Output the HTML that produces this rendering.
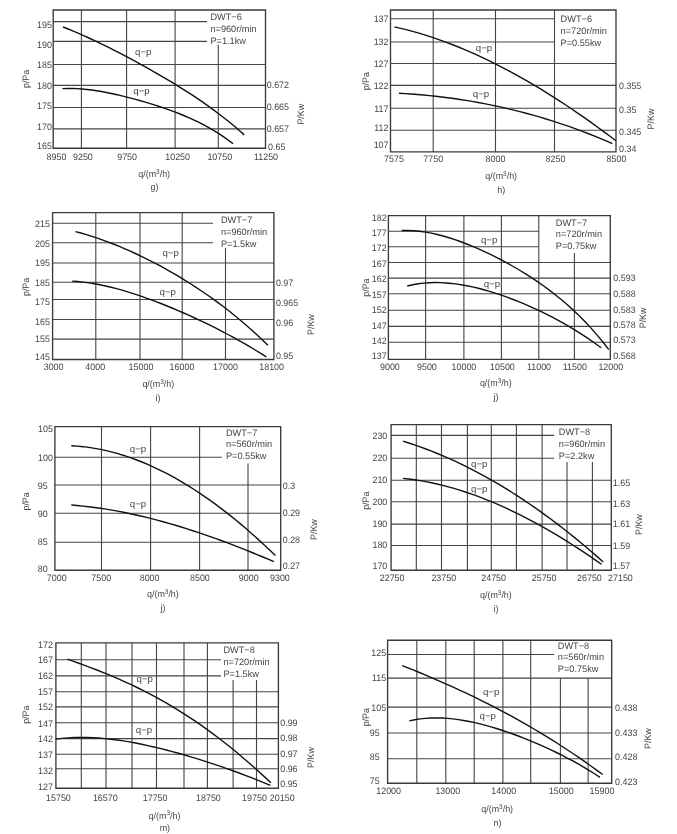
<!DOCTYPE html>
<html lang="en"><head><meta charset="utf-8"><title>Fan performance curves</title>
<style>
html,body{margin:0;padding:0;background:#fff}
body{width:677px;height:834px;overflow:hidden}
svg{display:block}
text{font-family:"Liberation Sans",Arial,Helvetica,sans-serif;font-size:9.4px;fill:#444;text-rendering:geometricPrecision}
.gr{fill:none;stroke:#444;stroke-width:1.1}
.bd{fill:none;stroke:#3a3a3a;stroke-width:1.35}
.cv{fill:none;stroke:#111;stroke-width:1.4;stroke-linecap:butt;stroke-linejoin:round}
</style></head><body>
<svg width="677" height="834" viewBox="0 0 677 834">
<rect width="677" height="834" fill="#fff"/>
<g id="chart-g">
<path class="gr" d="M81.4,10V148.2M126.6,10V148.2M175.1,10V148.2M218.3,44.7V148.2M53.2,21.6H207M53.2,41.4H207M53.2,64.5H265.5M53.2,85.4H265.5M53.2,107.5H265.5M53.2,128.9H265.5"/>
<path class="bd" d="M53.2,10H265.5V148.2H53.2Z"/>
<path class="cv" d="M63,26.98 L68.18,29.02 L73.35,31.15 L78.53,33.36 L83.71,35.64 L88.89,37.99 L94.06,40.4 L99.24,42.87 L104.42,45.39 L109.59,47.96 L114.77,50.58 L119.95,53.24 L125.13,55.94 L130.3,58.69 L135.48,61.47 L140.66,64.29 L145.83,67.16 L151.01,70.07 L156.19,73.02 L161.37,76.02 L166.54,79.06 L171.72,82.17 L176.9,85.33 L182.07,88.55 L187.25,91.84 L192.43,95.21 L197.61,98.66 L202.78,102.2 L207.96,105.84 L213.14,109.58 L218.31,113.44 L223.49,117.43 L228.67,121.55 L233.85,125.82 L239.02,130.26 L244.2,134.86"/>
<path class="cv" d="M62.5,88.64 L67.37,88.46 L72.25,88.47 L77.12,88.65 L82,88.98 L86.87,89.45 L91.75,90.05 L96.62,90.75 L101.49,91.56 L106.37,92.46 L111.24,93.44 L116.12,94.5 L120.99,95.62 L125.87,96.81 L130.74,98.06 L135.61,99.36 L140.49,100.72 L145.36,102.13 L150.24,103.59 L155.11,105.12 L159.99,106.71 L164.86,108.36 L169.73,110.08 L174.61,111.88 L179.48,113.77 L184.36,115.75 L189.23,117.84 L194.11,120.05 L198.98,122.39 L203.85,124.88 L208.73,127.53 L213.6,130.35 L218.48,133.37 L223.35,136.61 L228.23,140.08 L233.1,143.81"/>
<text transform="translate(51.9,27.78) scale(0.95,1)" text-anchor="end">195</text>
<text transform="translate(51.9,48.18) scale(0.95,1)" text-anchor="end">190</text>
<text transform="translate(51.9,68.38) scale(0.95,1)" text-anchor="end">185</text>
<text transform="translate(51.9,88.88) scale(0.95,1)" text-anchor="end">180</text>
<text transform="translate(51.9,108.98) scale(0.95,1)" text-anchor="end">175</text>
<text transform="translate(51.9,129.58) scale(0.95,1)" text-anchor="end">170</text>
<text transform="translate(51.9,149.18) scale(0.95,1)" text-anchor="end">165</text>
<text transform="translate(266.7,88.28) scale(0.95,1)">0.672</text>
<text transform="translate(266.7,109.88) scale(0.95,1)">0.665</text>
<text transform="translate(266.7,131.78) scale(0.95,1)">0.657</text>
<text transform="translate(268,150.08) scale(0.95,1)">0.65</text>
<text transform="translate(56.5,159.88) scale(0.95,1)" text-anchor="middle">8950</text>
<text transform="translate(82.9,159.88) scale(0.95,1)" text-anchor="middle">9250</text>
<text transform="translate(127.1,159.88) scale(0.95,1)" text-anchor="middle">9750</text>
<text transform="translate(177.6,159.88) scale(0.95,1)" text-anchor="middle">10250</text>
<text transform="translate(219.8,159.88) scale(0.95,1)" text-anchor="middle">10750</text>
<text transform="translate(266,159.88) scale(0.95,1)" text-anchor="middle">11250</text>
<text transform="translate(154.2,177.48) scale(0.95,1)" text-anchor="middle">q/(m<tspan dy="-3.6" font-size="6.8">3</tspan><tspan dy="3.6">/h)</tspan></text>
<text transform="translate(154.5,190.38) scale(0.95,1)" text-anchor="middle">g)</text>
<text transform="translate(28.88,78.9) rotate(-90) scale(0.95,1)" text-anchor="middle">p/Pa</text>
<text transform="translate(303.58,114.2) rotate(-90) scale(0.95,1)" text-anchor="middle">P/Kw</text>
<text transform="translate(210.4,20.48) scale(0.98,1)">DWT−6</text>
<text transform="translate(210.4,31.98) scale(0.98,1)">n=960r/min</text>
<text transform="translate(210.4,43.58) scale(0.98,1)">P=1.1kw</text>
<text transform="translate(143.2,55.38) scale(1.03,1)" text-anchor="middle">q−p</text>
<text transform="translate(141.5,94.28) scale(1.03,1)" text-anchor="middle">q−p</text>
</g>
<g id="chart-h">
<path class="gr" d="M433.2,10V151.8M495.5,10V151.8M554.5,10V151.8M390.5,18.8H554.5M390.5,42H554.5M390.5,63.5H616M390.5,85.4H616M390.5,108.3H616M390.5,130.2H616"/>
<path class="bd" d="M390.5,10H616V151.8H390.5Z"/>
<path class="cv" d="M394.5,26.92 L400.83,28.36 L407.16,29.93 L413.49,31.63 L419.81,33.44 L426.14,35.38 L432.47,37.43 L438.8,39.59 L445.13,41.88 L451.46,44.27 L457.79,46.77 L464.11,49.39 L470.44,52.11 L476.77,54.94 L483.1,57.87 L489.43,60.91 L495.76,64.04 L502.09,67.28 L508.41,70.62 L514.74,74.05 L521.07,77.57 L527.4,81.19 L533.73,84.91 L540.06,88.71 L546.39,92.6 L552.71,96.57 L559.04,100.64 L565.37,104.78 L571.7,109.01 L578.03,113.32 L584.36,117.7 L590.69,122.17 L597.01,126.71 L603.34,131.32 L609.67,136.01 L616,140.76"/>
<path class="cv" d="M399,93.31 L405.09,93.66 L411.19,94.06 L417.28,94.52 L423.38,95.04 L429.47,95.63 L435.57,96.27 L441.66,96.97 L447.75,97.73 L453.85,98.55 L459.94,99.44 L466.04,100.38 L472.13,101.4 L478.23,102.47 L484.32,103.61 L490.41,104.82 L496.51,106.09 L502.6,107.43 L508.7,108.83 L514.79,110.31 L520.89,111.85 L526.98,113.46 L533.07,115.14 L539.17,116.89 L545.26,118.71 L551.36,120.6 L557.45,122.56 L563.55,124.6 L569.64,126.71 L575.73,128.89 L581.83,131.15 L587.92,133.48 L594.02,135.89 L600.11,138.38 L606.21,140.94 L612.3,143.58"/>
<text transform="translate(388.5,22.18) scale(0.95,1)" text-anchor="end">137</text>
<text transform="translate(388.5,45.38) scale(0.95,1)" text-anchor="end">132</text>
<text transform="translate(388.5,66.88) scale(0.95,1)" text-anchor="end">127</text>
<text transform="translate(388.5,88.78) scale(0.95,1)" text-anchor="end">122</text>
<text transform="translate(388.5,111.68) scale(0.95,1)" text-anchor="end">117</text>
<text transform="translate(388.5,130.88) scale(0.95,1)" text-anchor="end">112</text>
<text transform="translate(388.5,147.88) scale(0.95,1)" text-anchor="end">107</text>
<text transform="translate(619,89.38) scale(0.95,1)">0.355</text>
<text transform="translate(619,113.38) scale(0.95,1)">0.35</text>
<text transform="translate(619,134.88) scale(0.95,1)">0.345</text>
<text transform="translate(619,151.88) scale(0.95,1)">0.34</text>
<text transform="translate(394,161.88) scale(0.95,1)" text-anchor="middle">7575</text>
<text transform="translate(433.2,161.88) scale(0.95,1)" text-anchor="middle">7750</text>
<text transform="translate(495.5,161.88) scale(0.95,1)" text-anchor="middle">8000</text>
<text transform="translate(555.5,161.88) scale(0.95,1)" text-anchor="middle">8250</text>
<text transform="translate(616.5,161.88) scale(0.95,1)" text-anchor="middle">8500</text>
<text transform="translate(501.2,179.38) scale(0.95,1)" text-anchor="middle">q/(m<tspan dy="-3.6" font-size="6.8">3</tspan><tspan dy="3.6">/h)</tspan></text>
<text transform="translate(501.3,192.58) scale(0.95,1)" text-anchor="middle">h)</text>
<text transform="translate(368.68,81.2) rotate(-90) scale(0.95,1)" text-anchor="middle">p/Pa</text>
<text transform="translate(654.38,119) rotate(-90) scale(0.95,1)" text-anchor="middle">P/Kw</text>
<text transform="translate(560.6,21.88) scale(0.98,1)">DWT−6</text>
<text transform="translate(560.6,33.88) scale(0.98,1)">n=720r/min</text>
<text transform="translate(560.6,45.88) scale(0.98,1)">P=0.55kw</text>
<text transform="translate(484,50.58) scale(1.03,1)" text-anchor="middle">q−p</text>
<text transform="translate(481,97.08) scale(1.03,1)" text-anchor="middle">q−p</text>
</g>
<g id="chart-i">
<path class="gr" d="M95.8,212.6V359.5M140,212.6V359.5M182.2,212.6V359.5M225.5,247.8V359.5M52.6,223.2H213M52.6,242.8H213M52.6,263H273.9M52.6,282.2H273.9M52.6,299.5H273.9M52.6,319.5H273.9M52.6,339.1H273.9"/>
<path class="bd" d="M52.6,212.6H273.9V359.5H52.6Z"/>
<path class="cv" d="M75.4,231.58 L80.9,233.04 L86.4,234.62 L91.9,236.32 L97.4,238.14 L102.9,240.06 L108.4,242.09 L113.9,244.23 L119.4,246.46 L124.9,248.79 L130.4,251.22 L135.9,253.74 L141.4,256.35 L146.9,259.06 L152.4,261.85 L157.9,264.74 L163.4,267.72 L168.9,270.79 L174.4,273.95 L179.9,277.21 L185.4,280.57 L190.9,284.03 L196.4,287.59 L201.9,291.26 L207.4,295.03 L212.9,298.92 L218.4,302.93 L223.9,307.06 L229.4,311.32 L234.9,315.72 L240.4,320.26 L245.9,324.94 L251.4,329.78 L256.9,334.78 L262.4,339.95 L267.9,345.3"/>
<path class="cv" d="M72.2,281.15 L77.75,281.54 L83.29,282.11 L88.84,282.84 L94.38,283.74 L99.93,284.77 L105.47,285.95 L111.02,287.25 L116.57,288.67 L122.11,290.2 L127.66,291.84 L133.2,293.57 L138.75,295.4 L144.29,297.31 L149.84,299.3 L155.39,301.37 L160.93,303.51 L166.48,305.73 L172.02,308 L177.57,310.35 L183.11,312.75 L188.66,315.22 L194.21,317.75 L199.75,320.34 L205.3,322.99 L210.84,325.71 L216.39,328.49 L221.93,331.33 L227.48,334.25 L233.03,337.24 L238.57,340.3 L244.12,343.45 L249.66,346.68 L255.21,350.01 L260.75,353.43 L266.3,356.96"/>
<text transform="translate(49.9,227.28) scale(0.95,1)" text-anchor="end">215</text>
<text transform="translate(49.9,246.68) scale(0.95,1)" text-anchor="end">205</text>
<text transform="translate(49.9,266.08) scale(0.95,1)" text-anchor="end">195</text>
<text transform="translate(49.9,285.78) scale(0.95,1)" text-anchor="end">185</text>
<text transform="translate(49.9,305.08) scale(0.95,1)" text-anchor="end">175</text>
<text transform="translate(49.9,324.88) scale(0.95,1)" text-anchor="end">165</text>
<text transform="translate(49.9,342.48) scale(0.95,1)" text-anchor="end">155</text>
<text transform="translate(49.9,360.38) scale(0.95,1)" text-anchor="end">145</text>
<text transform="translate(275.9,285.68) scale(0.95,1)">0.97</text>
<text transform="translate(275.9,305.58) scale(0.95,1)">0.965</text>
<text transform="translate(275.9,325.78) scale(0.95,1)">0.96</text>
<text transform="translate(275.9,359.48) scale(0.95,1)">0.95</text>
<text transform="translate(53.6,370.38) scale(0.95,1)" text-anchor="middle">3000</text>
<text transform="translate(95.2,370.38) scale(0.95,1)" text-anchor="middle">4000</text>
<text transform="translate(141,370.38) scale(0.95,1)" text-anchor="middle">15000</text>
<text transform="translate(182,370.38) scale(0.95,1)" text-anchor="middle">16000</text>
<text transform="translate(225.5,370.38) scale(0.95,1)" text-anchor="middle">17000</text>
<text transform="translate(271.6,370.38) scale(0.95,1)" text-anchor="middle">18100</text>
<text transform="translate(158.3,387.18) scale(0.95,1)" text-anchor="middle">q/(m<tspan dy="-3.6" font-size="6.8">3</tspan><tspan dy="3.6">/h)</tspan></text>
<text transform="translate(157.9,400.58) scale(0.95,1)" text-anchor="middle">i)</text>
<text transform="translate(29.28,286.9) rotate(-90) scale(0.95,1)" text-anchor="middle">p/Pa</text>
<text transform="translate(313.78,324.6) rotate(-90) scale(0.95,1)" text-anchor="middle">P/Kw</text>
<text transform="translate(220.9,223.48) scale(0.98,1)">DWT−7</text>
<text transform="translate(220.9,234.98) scale(0.98,1)">n=960r/min</text>
<text transform="translate(220.9,247.18) scale(0.98,1)">P=1.5kw</text>
<text transform="translate(170.6,256.48) scale(1.03,1)" text-anchor="middle">q−p</text>
<text transform="translate(167.6,295.28) scale(1.03,1)" text-anchor="middle">q−p</text>
</g>
<g id="chart-j">
<path class="gr" d="M425.6,215.6V359.4M463.9,215.6V359.4M501.4,215.6V359.4M538.8,215.6V359.4M574.4,252.9V359.4M388.4,231.2H538.8M388.4,246.8H538.8M388.4,262.5H610.3M388.4,278.1H610.3M388.4,293.7H610.3M388.4,310.3H610.3M388.4,326.4H610.3M388.4,342.3H610.3"/>
<path class="bd" d="M388.4,215.6H610.3V359.4H388.4Z"/>
<path class="cv" d="M401.7,230.57 L407.62,230.47 L413.53,230.71 L419.45,231.26 L425.37,232.08 L431.29,233.16 L437.2,234.48 L443.12,236.01 L449.04,237.75 L454.95,239.67 L460.87,241.76 L466.79,244.01 L472.71,246.4 L478.62,248.95 L484.54,251.62 L490.46,254.43 L496.37,257.38 L502.29,260.45 L508.21,263.65 L514.13,266.99 L520.04,270.48 L525.96,274.11 L531.88,277.9 L537.79,281.87 L543.71,286.02 L549.63,290.37 L555.55,294.93 L561.46,299.74 L567.38,304.8 L573.3,310.14 L579.21,315.79 L585.13,321.78 L591.05,328.12 L596.97,334.86 L602.88,342.02 L608.8,349.65"/>
<path class="cv" d="M407.2,286 L412.74,284.76 L418.29,283.81 L423.83,283.14 L429.37,282.73 L434.91,282.57 L440.46,282.65 L446,282.94 L451.54,283.43 L457.09,284.11 L462.63,284.97 L468.17,286 L473.71,287.18 L479.26,288.52 L484.8,289.99 L490.34,291.6 L495.89,293.33 L501.43,295.18 L506.97,297.15 L512.51,299.22 L518.06,301.41 L523.6,303.7 L529.14,306.1 L534.69,308.6 L540.23,311.21 L545.77,313.92 L551.31,316.74 L556.86,319.67 L562.4,322.72 L567.94,325.88 L573.49,329.17 L579.03,332.6 L584.57,336.16 L590.11,339.87 L595.66,343.74 L601.2,347.78"/>
<text transform="translate(386.6,220.98) scale(0.95,1)" text-anchor="end">182</text>
<text transform="translate(386.6,236.08) scale(0.95,1)" text-anchor="end">177</text>
<text transform="translate(386.6,251.18) scale(0.95,1)" text-anchor="end">172</text>
<text transform="translate(386.6,266.58) scale(0.95,1)" text-anchor="end">167</text>
<text transform="translate(386.6,282.48) scale(0.95,1)" text-anchor="end">162</text>
<text transform="translate(386.6,297.78) scale(0.95,1)" text-anchor="end">157</text>
<text transform="translate(386.6,313.38) scale(0.95,1)" text-anchor="end">152</text>
<text transform="translate(386.6,328.78) scale(0.95,1)" text-anchor="end">147</text>
<text transform="translate(386.6,344.38) scale(0.95,1)" text-anchor="end">142</text>
<text transform="translate(386.6,359.48) scale(0.95,1)" text-anchor="end">137</text>
<text transform="translate(613.3,281.48) scale(0.95,1)">0.593</text>
<text transform="translate(613.3,297.08) scale(0.95,1)">0.588</text>
<text transform="translate(613.3,312.68) scale(0.95,1)">0.583</text>
<text transform="translate(613.3,327.78) scale(0.95,1)">0.578</text>
<text transform="translate(613.3,343.38) scale(0.95,1)">0.573</text>
<text transform="translate(613.3,358.98) scale(0.95,1)">0.568</text>
<text transform="translate(389.9,370.38) scale(0.95,1)" text-anchor="middle">9000</text>
<text transform="translate(426.9,370.38) scale(0.95,1)" text-anchor="middle">9500</text>
<text transform="translate(463.9,370.38) scale(0.95,1)" text-anchor="middle">10000</text>
<text transform="translate(502.4,370.38) scale(0.95,1)" text-anchor="middle">10500</text>
<text transform="translate(539,370.38) scale(0.95,1)" text-anchor="middle">11000</text>
<text transform="translate(574.8,370.38) scale(0.95,1)" text-anchor="middle">11500</text>
<text transform="translate(610.8,370.38) scale(0.95,1)" text-anchor="middle">12000</text>
<text transform="translate(495.8,386.48) scale(0.95,1)" text-anchor="middle">q/(m<tspan dy="-3.6" font-size="6.8">3</tspan><tspan dy="3.6">/h)</tspan></text>
<text transform="translate(496.1,399.78) scale(0.95,1)" text-anchor="middle">j)</text>
<text transform="translate(369.28,287.6) rotate(-90) scale(0.95,1)" text-anchor="middle">p/Pa</text>
<text transform="translate(646.38,317.9) rotate(-90) scale(0.95,1)" text-anchor="middle">P/Kw</text>
<text transform="translate(555.8,226.08) scale(0.98,1)">DWT−7</text>
<text transform="translate(555.8,237.38) scale(0.98,1)">n=720r/min</text>
<text transform="translate(555.8,249.18) scale(0.98,1)">P=0.75kw</text>
<text transform="translate(489.1,242.88) scale(1.03,1)" text-anchor="middle">q−p</text>
<text transform="translate(491.9,287.48) scale(1.03,1)" text-anchor="middle">q−p</text>
</g>
<g id="chart-k">
<path class="gr" d="M101.5,426.6V570.2M150.6,426.6V570.2M199.6,426.6V570.2M248,463.4V570.2M54.9,457.3H221.8M54.9,485H280.7M54.9,513.2H280.7M54.9,542.2H280.7"/>
<path class="bd" d="M54.9,426.6H280.7V570.2H54.9Z"/>
<path class="cv" d="M71.3,445.74 L77.13,446.12 L82.96,446.68 L88.79,447.41 L94.63,448.32 L100.46,449.4 L106.29,450.66 L112.12,452.09 L117.95,453.69 L123.78,455.46 L129.61,457.39 L135.45,459.5 L141.28,461.76 L147.11,464.19 L152.94,466.77 L158.77,469.52 L164.6,472.43 L170.43,475.49 L176.27,478.7 L182.1,482.07 L187.93,485.6 L193.76,489.27 L199.59,493.09 L205.42,497.05 L211.25,501.17 L217.09,505.42 L222.92,509.82 L228.75,514.36 L234.58,519.05 L240.41,523.86 L246.24,528.82 L252.07,533.91 L257.91,539.13 L263.74,544.49 L269.57,549.97 L275.4,555.59"/>
<path class="cv" d="M71.3,505.02 L77.09,505.51 L82.88,506.09 L88.67,506.74 L94.45,507.48 L100.24,508.29 L106.03,509.18 L111.82,510.15 L117.61,511.18 L123.4,512.29 L129.19,513.48 L134.97,514.73 L140.76,516.04 L146.55,517.43 L152.34,518.88 L158.13,520.39 L163.92,521.96 L169.71,523.6 L175.49,525.29 L181.28,527.04 L187.07,528.84 L192.86,530.71 L198.65,532.62 L204.44,534.58 L210.23,536.6 L216.01,538.66 L221.8,540.77 L227.59,542.93 L233.38,545.13 L239.17,547.37 L244.96,549.66 L250.75,551.98 L256.53,554.34 L262.32,556.74 L268.11,559.18 L273.9,561.65"/>
<text transform="translate(52.9,432.48) scale(0.95,1)" text-anchor="end">105</text>
<text transform="translate(52.9,460.68) scale(0.95,1)" text-anchor="end">100</text>
<text transform="translate(37.8,488.68) scale(0.95,1)">95</text>
<text transform="translate(37.8,516.58) scale(0.95,1)">90</text>
<text transform="translate(37.8,544.58) scale(0.95,1)">85</text>
<text transform="translate(37.8,572.28) scale(0.95,1)">80</text>
<text transform="translate(282.7,488.88) scale(0.95,1)">0.3</text>
<text transform="translate(282.7,516.08) scale(0.95,1)">0.29</text>
<text transform="translate(282.7,542.58) scale(0.95,1)">0.28</text>
<text transform="translate(282.7,568.78) scale(0.95,1)">0.27</text>
<text transform="translate(56.7,581.38) scale(0.95,1)" text-anchor="middle">7000</text>
<text transform="translate(101.2,581.38) scale(0.95,1)" text-anchor="middle">7500</text>
<text transform="translate(149.6,581.38) scale(0.95,1)" text-anchor="middle">8000</text>
<text transform="translate(199.9,581.38) scale(0.95,1)" text-anchor="middle">8500</text>
<text transform="translate(248.7,581.38) scale(0.95,1)" text-anchor="middle">9000</text>
<text transform="translate(279.9,581.38) scale(0.95,1)" text-anchor="middle">9300</text>
<text transform="translate(162.9,597.18) scale(0.95,1)" text-anchor="middle">q/(m<tspan dy="-3.6" font-size="6.8">3</tspan><tspan dy="3.6">/h)</tspan></text>
<text transform="translate(162.9,610.58) scale(0.95,1)" text-anchor="middle">j)</text>
<text transform="translate(29.28,501.4) rotate(-90) scale(0.95,1)" text-anchor="middle">p/Pa</text>
<text transform="translate(317.08,529.6) rotate(-90) scale(0.95,1)" text-anchor="middle">P/Kw</text>
<text transform="translate(225.9,435.58) scale(0.98,1)">DWT−7</text>
<text transform="translate(225.9,447.38) scale(0.98,1)">n=560r/min</text>
<text transform="translate(225.9,459.18) scale(0.98,1)">P=0.55kw</text>
<text transform="translate(138,452.08) scale(1.03,1)" text-anchor="middle">q−p</text>
<text transform="translate(138,507.48) scale(1.03,1)" text-anchor="middle">q−p</text>
</g>
<g id="chart-l">
<path class="gr" d="M416.3,424.6V570.2M441.5,424.6V570.2M467.4,424.6V570.2M491.3,424.6V570.2M516.4,424.6V570.2M542.1,424.6V570.2M567,462.1V570.2M592.4,462.1V570.2M391.1,435.4H554.1M391.1,458.2H554.1M391.1,480.3H611.3M391.1,501.7H611.3M391.1,524.1H611.3M391.1,545.5H611.3"/>
<path class="bd" d="M391.1,424.6H611.3V570.2H391.1Z"/>
<path class="cv" d="M403,441.17 L408.72,442.98 L414.44,444.88 L420.16,446.89 L425.88,448.99 L431.6,451.19 L437.32,453.49 L443.04,455.89 L448.76,458.38 L454.48,460.98 L460.2,463.67 L465.92,466.46 L471.64,469.34 L477.36,472.32 L483.08,475.4 L488.8,478.57 L494.52,481.84 L500.24,485.21 L505.96,488.67 L511.68,492.22 L517.4,495.88 L523.12,499.62 L528.84,503.46 L534.56,507.4 L540.28,511.43 L546,515.56 L551.72,519.77 L557.44,524.09 L563.16,528.49 L568.88,532.99 L574.6,537.58 L580.32,542.27 L586.04,547.04 L591.76,551.91 L597.48,556.87 L603.2,561.93"/>
<path class="cv" d="M403,478.42 L408.67,479.04 L414.34,479.78 L420.01,480.65 L425.69,481.65 L431.36,482.77 L437.03,484.01 L442.7,485.37 L448.37,486.84 L454.04,488.44 L459.71,490.14 L465.39,491.96 L471.06,493.88 L476.73,495.92 L482.4,498.06 L488.07,500.3 L493.74,502.65 L499.41,505.1 L505.09,507.64 L510.76,510.28 L516.43,513.02 L522.1,515.85 L527.77,518.78 L533.44,521.79 L539.11,524.89 L544.79,528.07 L550.46,531.34 L556.13,534.7 L561.8,538.13 L567.47,541.64 L573.14,545.23 L578.81,548.89 L584.49,552.62 L590.16,556.43 L595.83,560.3 L601.5,564.25"/>
<text transform="translate(387.3,439.28) scale(0.95,1)" text-anchor="end">230</text>
<text transform="translate(387.3,461.18) scale(0.95,1)" text-anchor="end">220</text>
<text transform="translate(387.3,483.38) scale(0.95,1)" text-anchor="end">210</text>
<text transform="translate(387.3,504.58) scale(0.95,1)" text-anchor="end">200</text>
<text transform="translate(387.3,526.68) scale(0.95,1)" text-anchor="end">190</text>
<text transform="translate(387.3,548.08) scale(0.95,1)" text-anchor="end">180</text>
<text transform="translate(387.3,569.48) scale(0.95,1)" text-anchor="end">170</text>
<text transform="translate(612.8,485.88) scale(0.95,1)">1.65</text>
<text transform="translate(612.8,506.58) scale(0.95,1)">1.63</text>
<text transform="translate(612.8,527.48) scale(0.95,1)">1.61</text>
<text transform="translate(612.8,548.58) scale(0.95,1)">1.59</text>
<text transform="translate(612.8,568.98) scale(0.95,1)">1.57</text>
<text transform="translate(392.1,581.38) scale(0.95,1)" text-anchor="middle">22750</text>
<text transform="translate(443.8,581.38) scale(0.95,1)" text-anchor="middle">23750</text>
<text transform="translate(493.6,581.38) scale(0.95,1)" text-anchor="middle">24750</text>
<text transform="translate(544.1,581.38) scale(0.95,1)" text-anchor="middle">25750</text>
<text transform="translate(589.4,581.38) scale(0.95,1)" text-anchor="middle">26750</text>
<text transform="translate(620.4,581.38) scale(0.95,1)" text-anchor="middle">27150</text>
<text transform="translate(495.9,598.48) scale(0.95,1)" text-anchor="middle">q/(m<tspan dy="-3.6" font-size="6.8">3</tspan><tspan dy="3.6">/h)</tspan></text>
<text transform="translate(496.1,612.28) scale(0.95,1)" text-anchor="middle">i)</text>
<text transform="translate(369.28,500.7) rotate(-90) scale(0.95,1)" text-anchor="middle">p/Pa</text>
<text transform="translate(642.38,524.6) rotate(-90) scale(0.95,1)" text-anchor="middle">P/Kw</text>
<text transform="translate(558.8,434.88) scale(0.98,1)">DWT−8</text>
<text transform="translate(558.8,446.88) scale(0.98,1)">n=960r/min</text>
<text transform="translate(558.8,458.98) scale(0.98,1)">P=2.2kw</text>
<text transform="translate(479.3,466.68) scale(1.03,1)" text-anchor="middle">q−p</text>
<text transform="translate(479.3,491.68) scale(1.03,1)" text-anchor="middle">q−p</text>
</g>
<g id="chart-m">
<path class="gr" d="M81.3,642.9V788.2M106,642.9V788.2M132,642.9V788.2M156.5,642.9V788.2M184,642.9V788.2M207.4,642.9V788.2M233.1,679.9V788.2M256.5,679.9V788.2M55.9,659.8H221M55.9,675.9H221M55.9,691.8H278.4M55.9,706.9H278.4M55.9,722.7H278.4M55.9,738.6H278.4M55.9,754.2H278.4M55.9,768.8H278.4"/>
<path class="bd" d="M55.9,642.9H278.4V788.2H55.9Z"/>
<path class="cv" d="M67.2,659.12 L73.02,661.16 L78.84,663.24 L84.66,665.36 L90.48,667.54 L96.3,669.77 L102.12,672.07 L107.94,674.44 L113.76,676.89 L119.58,679.41 L125.4,682.02 L131.22,684.71 L137.04,687.5 L142.86,690.38 L148.68,693.37 L154.5,696.45 L160.32,699.65 L166.14,702.95 L171.96,706.36 L177.78,709.89 L183.6,713.54 L189.42,717.3 L195.24,721.18 L201.06,725.19 L206.88,729.31 L212.7,733.56 L218.52,737.94 L224.34,742.43 L230.16,747.05 L235.98,751.8 L241.8,756.67 L247.62,761.66 L253.44,766.78 L259.26,772.02 L265.08,777.37 L270.9,782.85"/>
<path class="cv" d="M55.9,739.08 L62.03,738.36 L68.16,737.85 L74.29,737.55 L80.41,737.42 L86.54,737.48 L92.67,737.7 L98.8,738.07 L104.93,738.59 L111.06,739.24 L117.19,740.02 L123.31,740.92 L129.44,741.93 L135.57,743.04 L141.7,744.25 L147.83,745.56 L153.96,746.95 L160.09,748.41 L166.21,749.96 L172.34,751.57 L178.47,753.25 L184.6,755 L190.73,756.81 L196.86,758.67 L202.99,760.59 L209.11,762.57 L215.24,764.6 L221.37,766.69 L227.5,768.83 L233.63,771.02 L239.76,773.27 L245.89,775.58 L252.01,777.95 L258.14,780.38 L264.27,782.87 L270.4,785.43"/>
<text transform="translate(52.9,648.08) scale(0.95,1)" text-anchor="end">172</text>
<text transform="translate(52.9,663.38) scale(0.95,1)" text-anchor="end">167</text>
<text transform="translate(52.9,678.98) scale(0.95,1)" text-anchor="end">162</text>
<text transform="translate(52.9,694.88) scale(0.95,1)" text-anchor="end">157</text>
<text transform="translate(52.9,710.48) scale(0.95,1)" text-anchor="end">152</text>
<text transform="translate(52.9,726.58) scale(0.95,1)" text-anchor="end">147</text>
<text transform="translate(52.9,742.48) scale(0.95,1)" text-anchor="end">142</text>
<text transform="translate(52.9,758.38) scale(0.95,1)" text-anchor="end">137</text>
<text transform="translate(52.9,773.98) scale(0.95,1)" text-anchor="end">132</text>
<text transform="translate(52.9,789.78) scale(0.95,1)" text-anchor="end">127</text>
<text transform="translate(280.2,726.08) scale(0.95,1)">0.99</text>
<text transform="translate(280.2,741.48) scale(0.95,1)">0.98</text>
<text transform="translate(280.2,757.08) scale(0.95,1)">0.97</text>
<text transform="translate(280.2,772.18) scale(0.95,1)">0.96</text>
<text transform="translate(280.2,787.28) scale(0.95,1)">0.95</text>
<text transform="translate(58.4,800.68) scale(0.95,1)" text-anchor="middle">15750</text>
<text transform="translate(105.3,800.68) scale(0.95,1)" text-anchor="middle">16570</text>
<text transform="translate(155.1,800.68) scale(0.95,1)" text-anchor="middle">17750</text>
<text transform="translate(208.4,800.68) scale(0.95,1)" text-anchor="middle">18750</text>
<text transform="translate(254.5,800.68) scale(0.95,1)" text-anchor="middle">19750</text>
<text transform="translate(282.2,800.68) scale(0.95,1)" text-anchor="middle">20150</text>
<text transform="translate(164.5,818.78) scale(0.95,1)" text-anchor="middle">q/(m<tspan dy="-3.6" font-size="6.8">3</tspan><tspan dy="3.6">/h)</tspan></text>
<text transform="translate(164.9,831.38) scale(0.95,1)" text-anchor="middle">m)</text>
<text transform="translate(29.28,714.7) rotate(-90) scale(0.95,1)" text-anchor="middle">p/Pa</text>
<text transform="translate(313.78,757.5) rotate(-90) scale(0.95,1)" text-anchor="middle">P/Kw</text>
<text transform="translate(223.4,653.28) scale(0.98,1)">DWT−8</text>
<text transform="translate(223.4,665.18) scale(0.98,1)">n=720r/min</text>
<text transform="translate(223.4,676.98) scale(0.98,1)">P=1.5kw</text>
<text transform="translate(144.8,681.98) scale(1.03,1)" text-anchor="middle">q−p</text>
<text transform="translate(144,733.38) scale(1.03,1)" text-anchor="middle">q−p</text>
</g>
<g id="chart-n">
<path class="gr" d="M416.8,640.2V783.2M445.8,640.2V783.2M474.2,640.2V783.2M502.9,640.2V783.2M530.7,640.2V783.2M560.4,677.6V783.2M588.1,677.6V783.2M387.6,654.5H554.1M387.6,678.1H611.7M387.6,707.1H611.7M387.6,733H611.7M387.6,758.7H611.7"/>
<path class="bd" d="M387.6,640.2H611.7V783.2H387.6Z"/>
<path class="cv" d="M402.2,665.57 L407.93,667.85 L413.66,670.17 L419.39,672.52 L425.11,674.9 L430.84,677.32 L436.57,679.78 L442.3,682.27 L448.03,684.81 L453.76,687.4 L459.49,690.03 L465.21,692.7 L470.94,695.42 L476.67,698.2 L482.4,701.02 L488.13,703.9 L493.86,706.83 L499.59,709.82 L505.31,712.86 L511.04,715.96 L516.77,719.13 L522.5,722.35 L528.23,725.63 L533.96,728.98 L539.69,732.4 L545.41,735.88 L551.14,739.42 L556.87,743.03 L562.6,746.72 L568.33,750.47 L574.06,754.29 L579.79,758.19 L585.51,762.16 L591.24,766.2 L596.97,770.32 L602.7,774.51"/>
<path class="cv" d="M409.3,720.88 L414.75,719.74 L420.2,718.9 L425.65,718.33 L431.09,718 L436.54,717.91 L441.99,718.04 L447.44,718.38 L452.89,718.9 L458.34,719.6 L463.79,720.46 L469.23,721.48 L474.68,722.63 L480.13,723.92 L485.58,725.33 L491.03,726.86 L496.48,728.49 L501.93,730.23 L507.37,732.07 L512.82,733.99 L518.27,736.01 L523.72,738.11 L529.17,740.3 L534.62,742.57 L540.07,744.92 L545.51,747.36 L550.96,749.89 L556.41,752.5 L561.86,755.22 L567.31,758.02 L572.76,760.94 L578.21,763.96 L583.65,767.1 L589.1,770.37 L594.55,773.77 L600,777.31"/>
<text transform="translate(386.1,656.38) scale(0.95,1)" text-anchor="end">125</text>
<text transform="translate(386.1,681.48) scale(0.95,1)" text-anchor="end">115</text>
<text transform="translate(386.1,711.28) scale(0.95,1)" text-anchor="end">105</text>
<text transform="translate(369.7,735.68) scale(0.95,1)">95</text>
<text transform="translate(369.7,759.58) scale(0.95,1)">85</text>
<text transform="translate(369.7,783.98) scale(0.95,1)">75</text>
<text transform="translate(615.1,710.78) scale(0.95,1)">0.438</text>
<text transform="translate(615.1,735.68) scale(0.95,1)">0.433</text>
<text transform="translate(615.1,760.38) scale(0.95,1)">0.428</text>
<text transform="translate(615.1,784.78) scale(0.95,1)">0.423</text>
<text transform="translate(388.6,794.38) scale(0.95,1)" text-anchor="middle">12000</text>
<text transform="translate(447.8,794.38) scale(0.95,1)" text-anchor="middle">13000</text>
<text transform="translate(503.7,794.38) scale(0.95,1)" text-anchor="middle">14000</text>
<text transform="translate(561.2,794.38) scale(0.95,1)" text-anchor="middle">15000</text>
<text transform="translate(602,794.38) scale(0.95,1)" text-anchor="middle">15900</text>
<text transform="translate(497.2,812.48) scale(0.95,1)" text-anchor="middle">q/(m<tspan dy="-3.6" font-size="6.8">3</tspan><tspan dy="3.6">/h)</tspan></text>
<text transform="translate(497.4,825.58) scale(0.95,1)" text-anchor="middle">n)</text>
<text transform="translate(368.58,717.2) rotate(-90) scale(0.95,1)" text-anchor="middle">p/Pa</text>
<text transform="translate(651.48,738.6) rotate(-90) scale(0.95,1)" text-anchor="middle">P/Kw</text>
<text transform="translate(557.8,648.78) scale(0.98,1)">DWT−8</text>
<text transform="translate(557.8,660.38) scale(0.98,1)">n=560r/min</text>
<text transform="translate(557.8,672.18) scale(0.98,1)">P=0.75kw</text>
<text transform="translate(491.1,695.08) scale(1.03,1)" text-anchor="middle">q−p</text>
<text transform="translate(487.8,718.98) scale(1.03,1)" text-anchor="middle">q−p</text>
</g>
</svg>
</body></html>
